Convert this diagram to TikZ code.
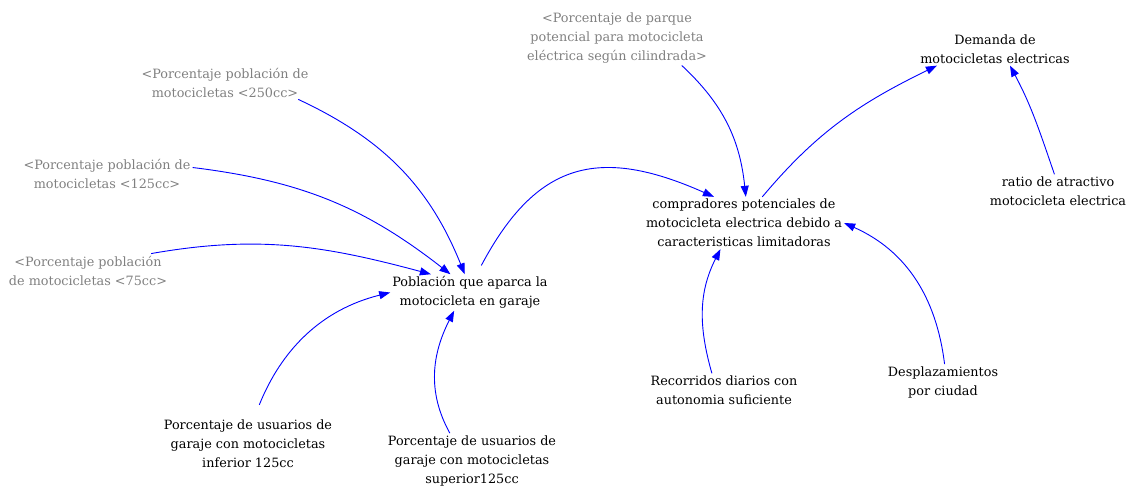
\documentclass[tikz,border=0pt]{standalone}
\usepackage{fontspec}
\setmainfont{DejaVu Serif}
\usepackage{tikz}
\usetikzlibrary{arrows.meta}

\begin{document}
\begin{tikzpicture}[
  x=1pt, y=1pt,
  var/.style={align=center, inner sep=2pt, font=\fontsize{12.8}{19}\selectfont},
  shadow/.style={var, text=gray},
  link/.style={-{Triangle[length=11pt,width=8pt]}, blue, line width=0.9pt}
]
\useasboundingbox (0,0) rectangle (1135,486);
\node[shadow] (p250) at (225,403.5) {<Porcentaje población de\\motocicletas <250cc>};
\node[shadow] (p125) at (107,312.5) {<Porcentaje población de\\motocicletas <125cc>};
\node[shadow] (p75) at (88,215.5) {<Porcentaje población\\de motocicletas <75cc>};
\node[var] (pob) at (470,193.5) {Población que aparca la\\motocicleta en garaje};
\node[var] (inf) at (248,42) {Porcentaje de usuarios de\\garaje con motocicletas\\inferior 125cc};
\node[var] (sup) at (472,25.5) {Porcentaje de usuarios de\\garaje con motocicletas\\superior125cc};
\node[shadow] (parque) at (617,448) {<Porcentaje de parque\\potencial para motocicleta\\eléctrica según cilindrada>};
\node[var] (comp) at (744,263) {compradores potenciales de\\motocicleta electrica debido a\\caracteristicas limitadoras};
\node[var] (dem) at (995,437) {Demanda de\\motocicletas electricas};
\node[var] (ratio) at (1058,295) {ratio de atractivo\\motocicleta electrica};
\node[var] (rec) at (724,96) {Recorridos diarios con\\autonomia suficiente};
\node[var] (desp) at (943,104) {Desplazamientos\\por ciudad};

\draw[link] (p250.-13) to[out=-25, in=112] (pob.106);
\draw[link] (p125.4) to[out=-7, in=142] (pob.137);
\draw[link] (p75.15) to[out=10, in=165] (pob.155);
\draw[link, shorten <=14pt] (inf.77) to[out=68, in=-166] (pob.180);
\draw[link] (sup.129) to[out=119, in=-117] (pob.-131);
\draw[link, shorten <=10pt] (pob.70) to[out=62, in=156, looseness=1.3] (comp.139);
\draw[link] (parque.-23) to[out=-43, in=96] (comp.86);
\draw[link] (comp.55) to[out=50, in=-154] (dem.-164);
\draw[link] (ratio.102) to[out=109, in=-62] (dem.-48);
\draw[link] (rec.126) to[out=106, in=-117] (comp.-132);
\draw[link] (desp.85) to[out=97, in=-24] (comp.0);
\end{tikzpicture}
\end{document}
